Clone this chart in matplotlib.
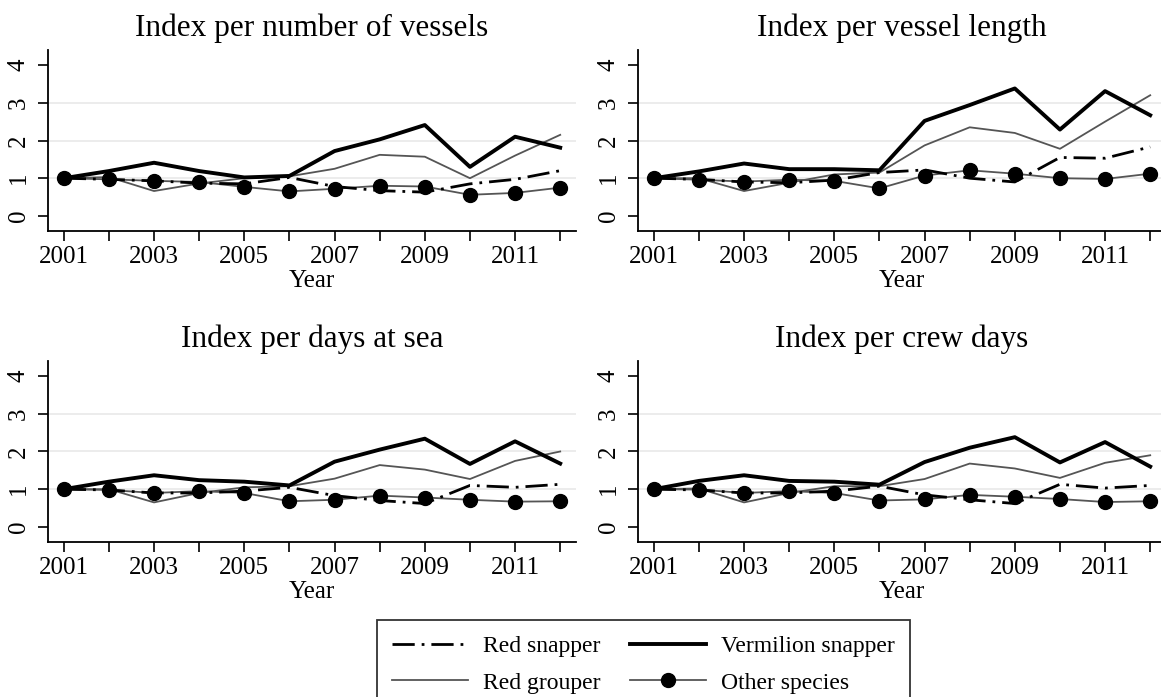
import matplotlib
matplotlib.use("Agg")
import matplotlib.pyplot as plt
from matplotlib.lines import Line2D

plt.rcParams['font.family'] = ['Liberation Serif', 'DejaVu Serif']

years = list(range(2001, 2013))

titles = ["Index per number of vessels", "Index per vessel length",
          "Index per days at sea", "Index per crew days"]

# значення (по панелях)
red_snapper = [
    [1.0, 0.97, 0.93, 0.87, 0.85, 1.02, 0.78, 0.67, 0.63, 0.85, 0.97, 1.20],
    [1.0, 0.97, 0.90, 0.88, 0.95, 1.15, 1.22, 1.00, 0.90, 1.55, 1.53, 1.83],
    [1.0, 0.98, 0.90, 0.90, 0.95, 1.05, 0.83, 0.70, 0.62, 1.10, 1.05, 1.13],
    [1.0, 0.98, 0.90, 0.90, 0.95, 1.08, 0.85, 0.72, 0.62, 1.13, 1.03, 1.10],
]
vermilion = [
    [1.0, 1.19, 1.41, 1.19, 1.02, 1.06, 1.72, 2.03, 2.41, 1.30, 2.10, 1.81],
    [1.0, 1.18, 1.39, 1.24, 1.24, 1.21, 2.52, 2.94, 3.38, 2.29, 3.31, 2.67],
    [1.0, 1.20, 1.37, 1.24, 1.20, 1.10, 1.73, 2.05, 2.34, 1.67, 2.27, 1.68],
    [1.0, 1.22, 1.37, 1.22, 1.20, 1.12, 1.72, 2.10, 2.38, 1.71, 2.25, 1.60],
]
red_grouper = [
    [1.0, 1.03, 0.66, 0.86, 1.00, 1.05, 1.25, 1.62, 1.57, 1.00, 1.60, 2.15],
    [1.0, 1.00, 0.66, 0.88, 1.10, 1.15, 1.87, 2.35, 2.20, 1.78, 2.50, 3.20],
    [1.0, 1.00, 0.65, 0.90, 1.05, 1.08, 1.28, 1.64, 1.52, 1.27, 1.75, 2.00],
    [1.0, 1.02, 0.65, 0.90, 1.08, 1.08, 1.27, 1.68, 1.55, 1.30, 1.70, 1.90],
]
other_species = [
    [1.0, 0.97, 0.93, 0.90, 0.77, 0.65, 0.72, 0.80, 0.78, 0.56, 0.61, 0.75],
    [1.0, 0.96, 0.91, 0.96, 0.93, 0.73, 1.07, 1.21, 1.12, 1.00, 0.98, 1.12],
    [1.0, 0.98, 0.90, 0.95, 0.90, 0.68, 0.72, 0.83, 0.78, 0.72, 0.67, 0.68],
    [1.0, 0.99, 0.90, 0.95, 0.90, 0.70, 0.73, 0.85, 0.80, 0.74, 0.66, 0.68],
]

W, H = 1161, 697
fig = plt.figure(figsize=(W / 100, H / 100), dpi=100)

# позиції панелей у пікселях: (ліво, низ осі, ширина, висота)
boxes = [(48, 231, 528, 181), (638, 231, 528, 181),
         (48, 542, 528, 181), (638, 542, 528, 181)]

dash_dot = (0, (8, 2.5, 1, 2.5))

for i, (x0, yb, w, h) in enumerate(boxes):
    ax = fig.add_axes([x0 / W, 1 - yb / H, w / W, h / H])
    ax.plot(years, red_grouper[i], color='#555555', lw=1.3, zorder=3)
    ax.plot(years, other_species[i], color='#555555', lw=1.3, marker='o',
            ms=10, mfc='black', mec='black', zorder=4)
    ax.plot(years, red_snapper[i], color='black', lw=2.0, linestyle=dash_dot, zorder=5)
    ax.plot(years, vermilion[i], color='black', lw=2.8, zorder=6)

    ax.set_xlim(2000.65, 2012.35)
    ax.set_ylim(-0.4, 4.4)
    ax.set_xticks(years)
    ax.set_xticklabels([str(y) if y % 2 == 1 else '' for y in years])
    ax.set_yticks([0, 1, 2, 3, 4])
    ax.set_yticklabels(['0', '1', '2', '3', '4'], rotation=90, va='center')
    for g in [1, 2, 3]:
        ax.axhline(g, color='#ebebeb', lw=1.3, zorder=1)
    ax.tick_params(labelsize=18, length=7, width=1.2, color='black', direction='out')
    ax.tick_params(axis='y', pad=6)
    for s in ['top', 'right']:
        ax.spines[s].set_visible(False)
    for s in ['left', 'bottom']:
        ax.spines[s].set_linewidth(1.3)
    ax.set_xlabel("Year", fontsize=18, labelpad=2)
    ax.set_title(titles[i], fontsize=22.5, pad=10)

handles = [
    Line2D([], [], color='black', lw=2.0, linestyle=dash_dot),
    Line2D([], [], color='#555555', lw=1.3),
    Line2D([], [], color='black', lw=2.8),
    Line2D([], [], color='#555555', lw=1.3, marker='o', ms=10, mfc='black', mec='black'),
]
labels = ["Red snapper", "Red grouper", "Vermilion snapper", "Other species"]
leg = fig.legend(handles, labels, ncol=2, loc='upper left',
                 bbox_to_anchor=(377 / W, 1 - 620 / H), borderaxespad=0,
                 fontsize=17, frameon=True, fancybox=False, edgecolor='black',
                 handlelength=3.2, handletextpad=0.65, columnspacing=1.25,
                 labelspacing=0.65, borderpad=0.65)
leg.get_frame().set_linewidth(1.3)

fig.savefig("out.png", dpi=100)
